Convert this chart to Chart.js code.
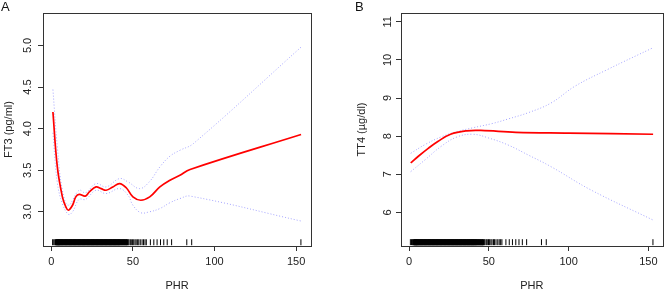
<!DOCTYPE html>
<html>
<head>
<meta charset="utf-8">
<script src="https://cdn.jsdelivr.net/npm/chart.js@4/dist/chart.umd.min.js"></script>
<style>
  html, body { margin: 0; padding: 0; background: #fff; }
  #wrap { position: relative; width: 669px; height: 290px; }
  canvas { position: absolute; top: 0; }
</style>
</head>
<body>
<div id="wrap">
  <canvas id="chartA" width="335" height="290" style="left:0"></canvas>
  <canvas id="chartB" width="334" height="290" style="left:335px"></canvas>
</div>
<script>
// tick labels
const xTicks = [0, 50, 100, 150];
const ft3Ticks = [3.0, 3.5, 4.0, 4.5, 5.0];
const tt4Ticks = [6, 7, 8, 9, 10, 11];

// A: FT3 ~ PHR (fit + 95% CI)
const ft3X = [1, 3.7, 6.8, 8.9, 10.5, 13, 15, 17.1, 20.8, 23.3, 27.4, 30.5, 33.6, 37.7, 41.8, 45.9, 50, 54.8, 60.3, 66.5, 72.7, 78.8, 85, 153];
const ft3Fit = [4.20, 3.54, 3.18, 3.06, 3.02, 3.08, 3.18, 3.21, 3.19, 3.24, 3.30, 3.28, 3.26, 3.30, 3.34, 3.29, 3.18, 3.14, 3.18, 3.30, 3.38, 3.44, 3.51, 3.93];
const ft3UpX = [1, 3.7, 6.8, 10.5, 17, 21, 27.4, 33.6, 41.8, 47, 54.1, 60, 66.5, 72.7, 78.8, 87, 153];
const ft3Up = [4.47, 3.78, 3.26, 3.08, 3.26, 3.23, 3.34, 3.30, 3.40, 3.36, 3.28, 3.36, 3.54, 3.67, 3.74, 3.82, 4.98];
const ft3LoX = [1, 3.7, 6.8, 10.5, 13, 17, 21, 27.4, 33.6, 41.8, 47, 50, 54.8, 60, 66.5, 72.7, 78.8, 85, 153];
const ft3Lo = [3.95, 3.35, 3.10, 2.97, 3.00, 3.15, 3.15, 3.26, 3.22, 3.28, 3.20, 3.08, 2.99, 3.00, 3.04, 3.11, 3.16, 3.19, 2.89];

// B: TT4 ~ PHR
const tt4X = [1, 6, 12, 18, 26, 36, 45, 67, 100, 153];
const tt4Fit = [7.30, 7.48, 7.68, 7.86, 8.05, 8.14, 8.15, 8.10, 8.08, 8.05];
const tt4UpX = [1, 10, 20, 30, 40, 52, 62, 75, 89, 104, 124, 153];
const tt4Up = [7.55, 7.78, 7.98, 8.12, 8.22, 8.33, 8.45, 8.62, 8.87, 9.31, 9.74, 10.32];
const tt4LoX = [1, 10, 20, 30, 40, 50, 62, 75, 89, 114, 153];
const tt4Lo = [7.07, 7.38, 7.73, 7.98, 8.05, 7.95, 7.77, 7.50, 7.20, 6.59, 5.80];

// PHR rug (observed values)
const rugPHR = [0.8, 1.5, 2.2, 2.8, 3.3, 3.8, 4.2, 4.6, 5.0, 5.5, 6.0, 6.5, 7.0, 7.5, 8.0, 8.5, 9.0, 9.5,
  10.0, 10.5, 11.0, 11.5, 12.0, 12.5, 13.0, 13.5, 14.0, 14.5, 15.0, 15.5, 16.0, 16.5, 17.0, 17.5, 18.0,
  18.5, 19.0, 19.5, 20.0, 20.5, 21.0, 21.5, 22.0, 22.5, 23.0, 23.5, 24.0, 24.5, 25.0, 25.5, 26.0, 26.5,
  27.0, 27.5, 28.0, 28.5, 29.0, 29.5, 30.0, 30.5, 31.0, 31.5, 32.0, 32.5, 33.0, 33.5, 34.0, 34.5, 35.0,
  35.5, 36.0, 36.5, 37.0, 37.5, 38.0, 38.5, 39.0, 39.5, 40.0, 40.5, 41.0, 41.5, 42.0, 42.6, 43.3, 43.9,
  44.6, 45.2, 45.9, 46.4, 47.1, 47.6, 48.4, 49.0, 49.8, 50.5, 51.3, 52.0, 52.9, 53.6, 54.5, 55.6, 56.5,
  57.4, 58.2, 60.7, 62.8, 64.8, 66.9, 68.9, 71.0, 73.7, 83.0, 86.0, 152.9];

Chart.defaults.font.family = '"Liberation Sans", Arial, Helvetica, sans-serif';
Chart.defaults.color = '#222';

const pts = (xs, ys) => xs.map((x, i) => ({ x: x, y: ys[i] }));

// box round plot region + panel letter
const frame = {
  id: 'frame',
  afterDraw(chart, args, opts) {
    const { ctx, chartArea: a } = chart;
    ctx.save();
    ctx.strokeStyle = '#333';
    ctx.lineWidth = 1;
    ctx.strokeRect(Math.round(a.left) + 0.5, Math.round(a.top) + 0.5,
      Math.round(a.right - a.left), Math.round(a.bottom - a.top));
    ctx.fillStyle = '#111';
    ctx.font = '13px "Liberation Sans", Arial, sans-serif';
    ctx.textBaseline = 'top';
    ctx.fillText(opts.letter, opts.lx, 1);
    ctx.restore();
  }
};

function makePanel(id, p) {
  const red = { data: pts(p.fx, p.fit), borderColor: '#ff0000', borderWidth: 1.7, tension: 0.4 };
  const ci = (xs, ys) => ({ data: pts(xs, ys), borderColor: '#a4a4ff', borderWidth: 1, borderDash: [1, 2], tension: 0.4 });
  const rug = {
    data: rugPHR.map(x => ({ x: x, y: p.rugY })),
    showLine: false, pointStyle: 'line', rotation: 90, pointRadius: 3,
    borderColor: '#000',
    // dense part of the rug merges into a solid band
    borderWidth: (c) => (c.raw && c.raw.x > 2.5 && c.raw.x < 47) ? 2.2 : 1
  };
  return new Chart(document.getElementById(id), {
    type: 'scatter',
    data: { datasets: [
      Object.assign({ showLine: true, pointRadius: 0 }, red),
      Object.assign({ showLine: true, pointRadius: 0 }, ci(p.ux, p.up)),
      Object.assign({ showLine: true, pointRadius: 0 }, ci(p.lx, p.lo)),
      rug
    ] },
    plugins: [frame],
    options: {
      responsive: false,
      animation: false,
      events: [],
      layout: { padding: { top: 13, right: p.padR, left: 0, bottom: 0 } },
      plugins: { legend: { display: false }, tooltip: { enabled: false }, frame: { letter: p.letter, lx: p.letterX } },
      scales: {
        x: {
          type: 'linear', min: -5.08, max: 159.08,
          afterFit: s => { s.height = 44; },
          afterBuildTicks: s => { s.ticks = xTicks.map(v => ({ value: v })); },
          grid: { drawOnChartArea: false, drawTicks: true, tickLength: 5, color: '#333' },
          border: { display: true, color: '#333' },
          ticks: { padding: 4, font: { size: 11 }, maxRotation: 0 },
          title: { display: true, text: 'PHR', font: { size: 11, lineHeight: 0.8 }, padding: { top: 0, bottom: 0 } }
        },
        y: {
          type: 'linear', min: p.ymin, max: p.ymax,
          afterFit: s => { s.width = p.yw; },
          afterBuildTicks: s => { s.ticks = p.yt.map(v => ({ value: v })); },
          grid: { drawOnChartArea: false, drawTicks: true, tickLength: 5, color: '#333' },
          border: { display: true, color: '#333' },
          ticks: { minRotation: 90, maxRotation: 90, crossAlign: 'center', padding: 2, font: { size: 11 },
                   callback: v => p.fmt(v) },
          title: { display: true, text: p.ytitle, font: { size: 11 }, padding: { top: p.titlePad, bottom: 0 } }
        }
      }
    }
  });
}

makePanel('chartA', {
  fx: ft3X, fit: ft3Fit, ux: ft3UpX, up: ft3Up, lx: ft3LoX, lo: ft3Lo,
  ymin: 2.59, ymax: 5.39, yt: ft3Ticks, fmt: v => v.toFixed(1), ytitle: 'FT3 (pg/ml)',
  rugY: 2.635, yw: 43, padR: 24, titlePad: 2, letter: 'A', letterX: 1
});

makePanel('chartB', {
  fx: tt4X, fit: tt4Fit, ux: tt4UpX, up: tt4Up, lx: tt4LoX, lo: tt4Lo,
  ymin: 5.12, ymax: 11.23, yt: tt4Ticks, fmt: v => String(v), ytitle: 'TT4 (µg/dl)',
  rugY: 5.22, yw: 66, padR: 1, titlePad: 20, letter: 'B', letterX: 20
});
</script>
</body>
</html>
